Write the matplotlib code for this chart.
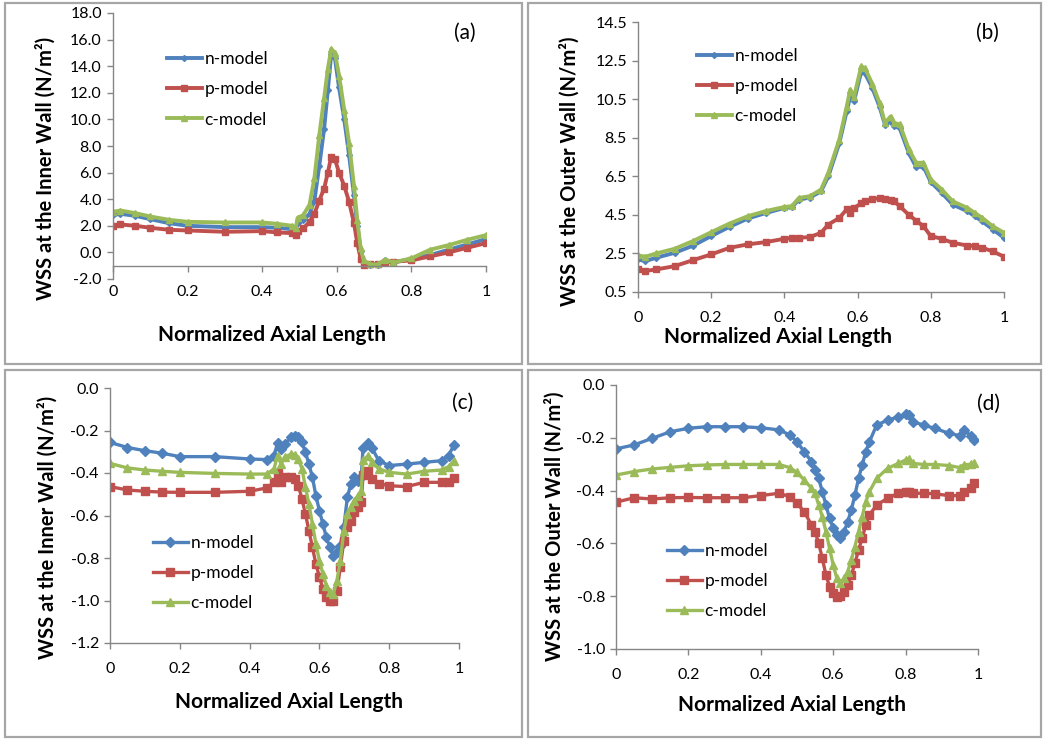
import numpy as np
import matplotlib
matplotlib.use("Agg")
import matplotlib.pyplot as plt
from matplotlib.patches import Rectangle

plt.rcParams['font.family'] = ['Lato', 'DejaVu Sans']

labels = ['n-model', 'p-model', 'c-model']
colors = ['#4F81BD', '#C0504D', '#9BBB59']
markers = ['D', 's', '^']
xticks = [0, 0.2, 0.4, 0.6, 0.8, 1.0]
xticklabels = ['0', '0.2', '0.4', '0.6', '0.8', '1']

# (a) inner wall
xa = [0, 0.02, 0.06, 0.1, 0.15, 0.2, 0.3, 0.4, 0.44, 0.48, 0.49, 0.495, 0.51, 0.527, 0.54,
      0.553, 0.566, 0.576, 0.585, 0.595, 0.606, 0.62, 0.633, 0.646, 0.655, 0.664, 0.672,
      0.69, 0.71, 0.73, 0.752, 0.8, 0.85, 0.9, 0.95, 1.0]
na = [2.8, 2.9, 2.75, 2.5, 2.2, 2.0, 1.9, 1.9, 1.85, 1.75, 1.7, 2.2, 2.4, 2.9, 3.9,
      6.5, 9.3, 12.2, 14.9, 14.6, 12.4, 10.0, 7.3, 4.3, 2.0, 0.1, -0.7,
      -0.95, -0.95, -0.6, -0.75, -0.5, -0.2, 0.2, 0.6, 1.0]
pa = [2.0, 2.1, 2.0, 1.85, 1.7, 1.65, 1.55, 1.6, 1.5, 1.45, 1.3, 1.6, 1.8, 2.3, 2.9,
      3.9, 4.8, 6.0, 7.2, 7.0, 6.0, 5.0, 3.8, 2.2, 0.7, -0.5, -0.95,
      -0.9, -0.85, -0.75, -0.7, -0.6, -0.3, 0.0, 0.35, 0.7]
ca = [3.05, 3.15, 2.95, 2.7, 2.45, 2.3, 2.25, 2.25, 2.15, 2.0, 1.85, 2.6, 2.8, 3.6, 5.6,
      8.8, 11.6, 13.8, 15.3, 15.0, 13.3, 10.7, 8.2, 5.0, 2.4, 0.3, -0.6,
      -0.9, -0.9, -0.55, -0.75, -0.45, 0.2, 0.55, 0.95, 1.3]
yticks_a = [-2, 0, 2, 4, 6, 8, 10, 12, 14, 16, 18]
yticklabels_a = ['-2.0', '0.0', '2.0', '4.0', '6.0', '8.0', '10.0', '12.0', '14.0', '16.0', '18.0']

# (b) outer wall
xb = [0, 0.02, 0.05, 0.1, 0.15, 0.2, 0.25, 0.3, 0.35, 0.4, 0.42, 0.44, 0.47, 0.5, 0.52,
      0.55, 0.57, 0.58, 0.59, 0.61, 0.62, 0.64, 0.66, 0.675, 0.69, 0.7, 0.715, 0.74,
      0.76, 0.78, 0.8, 0.83, 0.86, 0.9, 0.92, 0.94, 0.97, 1.0]
nb = [2.19, 2.1, 2.28, 2.53, 2.9, 3.4, 3.88, 4.31, 4.6, 4.86, 4.9, 5.29, 5.4, 5.72, 6.5,
      8.22, 9.86, 10.64, 10.38, 11.93, 11.84, 11.1, 10.1, 9.17, 9.34, 9.09, 9.0, 7.7,
      6.98, 7.0, 6.2, 5.64, 5.03, 4.69, 4.43, 4.17, 3.74, 3.31]
pb = [1.67, 1.59, 1.67, 1.84, 2.15, 2.45, 2.79, 2.97, 3.09, 3.26, 3.3, 3.31, 3.35, 3.57, 4.0,
      4.34, 4.78, 4.6, 4.85, 5.1, 5.2, 5.3, 5.38, 5.3, 5.26, 5.2, 4.95, 4.5,
      4.2, 3.91, 3.4, 3.26, 3.05, 2.91, 2.88, 2.8, 2.6, 2.33]
cb = [2.4, 2.33, 2.5, 2.74, 3.14, 3.6, 4.05, 4.43, 4.7, 4.91, 4.95, 5.38, 5.47, 5.81, 6.67,
      8.4, 10.1, 11.0, 10.6, 12.2, 12.1, 11.3, 10.3, 9.26, 9.6, 9.26, 9.2, 7.9,
      7.2, 7.2, 6.33, 5.81, 5.2, 4.86, 4.6, 4.35, 3.9, 3.57]
yticks_b = [0.5, 2.5, 4.5, 6.5, 8.5, 10.5, 12.5, 14.5]
yticklabels_b = ['0.5', '2.5', '4.5', '6.5', '8.5', '10.5', '12.5', '14.5']

# (c) inner wall
xc = [0, 0.05, 0.1, 0.15, 0.2, 0.3, 0.4, 0.45, 0.47, 0.48, 0.49, 0.5, 0.52, 0.53, 0.54,
      0.55, 0.56, 0.57, 0.58, 0.59, 0.6, 0.61, 0.62, 0.63, 0.64, 0.65, 0.66, 0.67, 0.68,
      0.69, 0.7, 0.71, 0.72, 0.725, 0.74, 0.75, 0.77, 0.8, 0.85, 0.9, 0.95, 0.97, 0.985]
nc = [-0.256, -0.28, -0.295, -0.307, -0.323, -0.323, -0.334, -0.337, -0.318, -0.26, -0.287,
      -0.264, -0.232, -0.224, -0.232, -0.256, -0.303, -0.358, -0.42, -0.507, -0.577, -0.64,
      -0.703, -0.75, -0.789, -0.774, -0.742, -0.656, -0.515, -0.452, -0.42, -0.436, -0.42,
      -0.28, -0.26, -0.28, -0.342, -0.365, -0.358, -0.35, -0.342, -0.318, -0.27]
pc = [-0.464, -0.48, -0.486, -0.49, -0.491, -0.491, -0.486, -0.47, -0.444, -0.402, -0.444,
      -0.42, -0.42, -0.43, -0.46, -0.522, -0.593, -0.671, -0.75, -0.828, -0.89, -0.945,
      -0.985, -1.004, -1.0, -0.954, -0.844, -0.718, -0.656, -0.624, -0.585, -0.562, -0.538,
      -0.41, -0.392, -0.428, -0.45, -0.46, -0.464, -0.444, -0.444, -0.44, -0.423]
cc = [-0.355, -0.376, -0.386, -0.392, -0.397, -0.402, -0.405, -0.405, -0.38, -0.318, -0.358,
      -0.326, -0.31, -0.313, -0.334, -0.38, -0.467, -0.546, -0.64, -0.734, -0.813, -0.875,
      -0.93, -0.962, -0.969, -0.907, -0.813, -0.671, -0.593, -0.56, -0.53, -0.507, -0.483,
      -0.34, -0.318, -0.35, -0.38, -0.397, -0.405, -0.392, -0.386, -0.37, -0.345]
yticks_c = [-1.2, -1.0, -0.8, -0.6, -0.4, -0.2, 0.0]
yticklabels_c = ['-1.2', '-1.0', '-0.8', '-0.6', '-0.4', '-0.2', '0.0']

# (d) outer wall
xd = [0, 0.05, 0.1, 0.15, 0.2, 0.25, 0.3, 0.35, 0.4, 0.45, 0.48, 0.5, 0.52, 0.54, 0.55,
      0.56, 0.57, 0.58, 0.59, 0.6, 0.61, 0.62, 0.63, 0.64, 0.65, 0.66, 0.67, 0.68, 0.69,
      0.7, 0.72, 0.75, 0.78, 0.8, 0.81, 0.82, 0.85, 0.88, 0.92, 0.95, 0.96, 0.98, 0.99]
nd = [-0.242, -0.227, -0.202, -0.177, -0.164, -0.158, -0.158, -0.158, -0.162, -0.17, -0.189,
      -0.215, -0.253, -0.29, -0.322, -0.354, -0.404, -0.455, -0.505, -0.543, -0.568, -0.578,
      -0.556, -0.518, -0.473, -0.417, -0.354, -0.303, -0.253, -0.215, -0.152, -0.133, -0.121,
      -0.111, -0.114, -0.139, -0.152, -0.164, -0.183, -0.192, -0.17, -0.192, -0.208]
pd_ = [-0.444, -0.427, -0.432, -0.427, -0.426, -0.427, -0.427, -0.427, -0.419, -0.41, -0.423,
       -0.448, -0.48, -0.53, -0.556, -0.6, -0.657, -0.72, -0.764, -0.789, -0.802, -0.798,
       -0.783, -0.758, -0.72, -0.676, -0.625, -0.581, -0.53, -0.492, -0.455, -0.429, -0.41,
       -0.404, -0.404, -0.41, -0.41, -0.412, -0.419, -0.419, -0.404, -0.391, -0.372]
cd = [-0.341, -0.328, -0.318, -0.312, -0.306, -0.303, -0.301, -0.301, -0.301, -0.301, -0.313,
      -0.331, -0.36, -0.391, -0.41, -0.455, -0.499, -0.556, -0.619, -0.682, -0.732, -0.751,
      -0.732, -0.707, -0.663, -0.612, -0.556, -0.499, -0.442, -0.404, -0.354, -0.316, -0.297,
      -0.284, -0.28, -0.297, -0.301, -0.301, -0.305, -0.313, -0.303, -0.3, -0.297]
yticks_d = [-1.0, -0.8, -0.6, -0.4, -0.2, 0.0]
yticklabels_d = ['-1.0', '-0.8', '-0.6', '-0.4', '-0.2', '0.0']

fig = plt.figure(figsize=(10.5, 7.43), dpi=100)
W, H = 1050.0, 743.0

# grey frames around the four chart objects
for x0, y0, x1, y1 in [(5, 3, 522, 364), (528, 3, 1041, 364),
                       (5, 370, 522, 737), (528, 370, 1041, 737)]:
    fig.patches.append(Rectangle((x0 / W, 1 - y1 / H), (x1 - x0) / W, (y1 - y0) / H,
                                 transform=fig.transFigure, fill=False,
                                 edgecolor='#A6A6A6', lw=1.6))

grey = '#868686'


def panel(box, x, series, yticks, yticklabels, ylabel, tag, cross, leg, xlab, ylab, tagpos, ms, lw):
    l, t, r, b = box
    ax = fig.add_axes([l / W, 1 - b / H, (r - l) / W, (b - t) / H])
    for s, lab, col, mk, m in zip(series, labels, colors, markers, ms):
        ax.plot(x, s, color=col, lw=lw, marker=mk, ms=m, mfc=col, mec=col, label=lab)
    ax.set_xlim(0, 1)
    ax.set_ylim(yticks[0], yticks[-1])
    ax.set_xticks(xticks)
    ax.set_xticklabels(xticklabels)
    ax.set_yticks(yticks)
    ax.set_yticklabels(yticklabels)
    for sp in ['top', 'right']:
        ax.spines[sp].set_visible(False)
    for sp in ['left', 'bottom']:
        ax.spines[sp].set_color(grey)
        ax.spines[sp].set_linewidth(1.0)
    if cross is not None:
        ax.spines['bottom'].set_position(('data', cross))
    ax.tick_params(axis='both', colors=grey, labelcolor='black', labelsize=11.5,
                   direction='out', length=4, width=1)
    ax.tick_params(axis='x', pad=10)
    ax.tick_params(axis='y', pad=4)
    ax.set_xlabel('Normalized Axial Length', fontsize=15, fontweight='bold')
    ax.xaxis.set_label_coords(*xlab)
    ax.xaxis.label.set_va('center')
    ax.set_ylabel(ylabel, fontsize=14.5, fontweight='bold')
    ax.yaxis.set_label_coords(*ylab)
    ax.yaxis.label.set_va('center')
    ax.text(tagpos[0], tagpos[1], tag, transform=ax.transAxes, fontsize=15,
            ha='center', va='center')
    ax.legend(loc='upper left', bbox_to_anchor=leg, frameon=False, fontsize=12.5,
              borderaxespad=0, borderpad=0, handlelength=2.0, handletextpad=0.15,
              labelspacing=0.82, markerscale=1.0)
    return ax


panel((113, 13, 486, 279), xa, [na, pa, ca], yticks_a, yticklabels_a,
      'WSS at the Inner Wall (N/m²)', '(a)', -1.0, (0.145, 0.857),
      (0.426, -0.21), (-0.18, 0.417), (0.944, 0.925), [3, 4.5, 4.5], 2.8)
panel((638, 22, 1004, 292), xb, [nb, pb, cb], yticks_b, yticklabels_b,
      'WSS at the Outer Wall (N/m²)', '(b)', None, (0.161, 0.905),
      (0.383, -0.167), (-0.186, 0.448), (0.954, 0.959), [3, 4.5, 4.5], 2.8)
panel((110, 388, 459, 643), xc, [nc, pc, cc], yticks_c, yticklabels_c,
      'WSS at the Inner Wall (N/m²)', '(c)', None, (0.123, 0.425),
      (0.513, -0.231), (-0.178, 0.455), (1.011, 0.941), [5, 6, 6], 2.4)
panel((616, 385, 978, 649), xd, [nd, pd_, cd], yticks_d, yticklabels_d,
      'WSS at the Outer Wall (N/m²)', '(d)', None, (0.141, 0.403),
      (0.486, -0.212), (-0.169, 0.466), (1.028, 0.928), [5, 6, 6], 2.4)

fig.savefig('out.png', dpi=100)
